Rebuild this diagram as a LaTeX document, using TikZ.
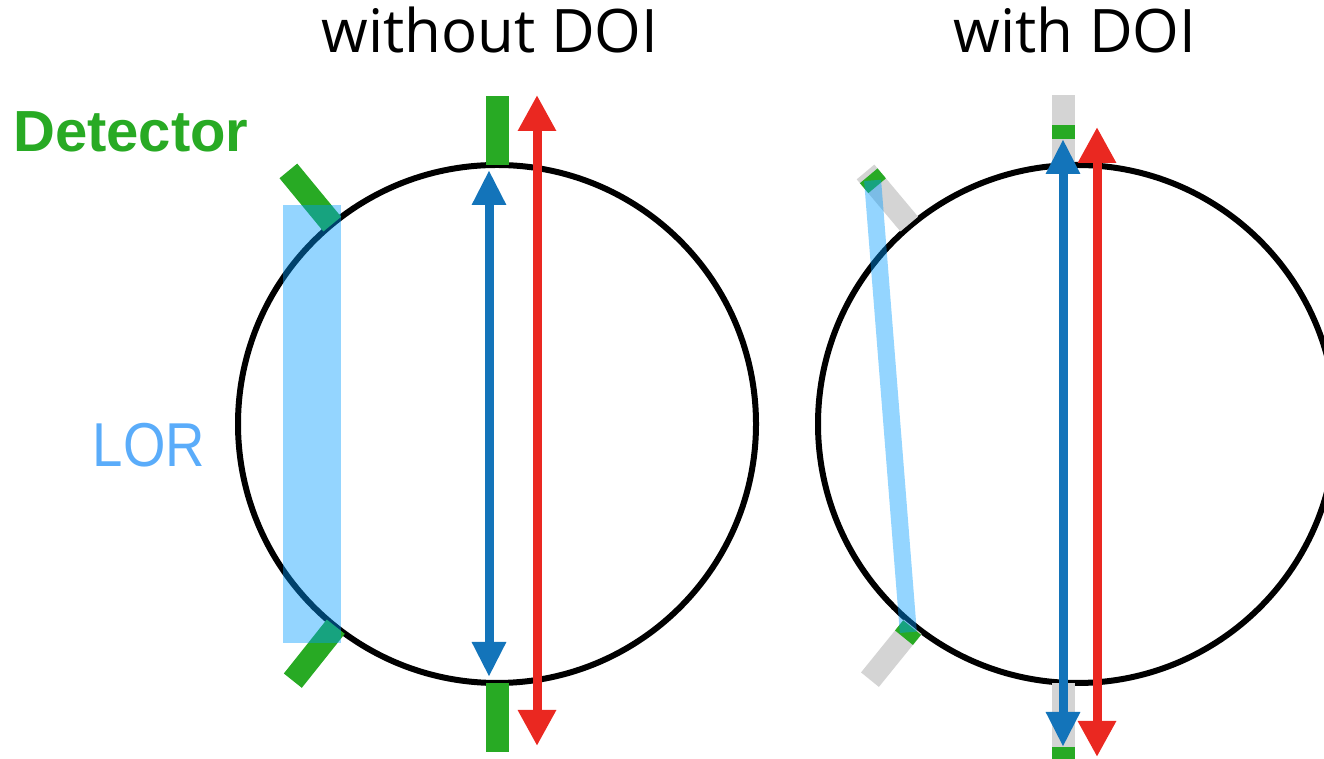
\documentclass[tikz,border=0pt]{standalone}
\usepackage{fontspec}
\setmainfont{Open Sans}
\newfontfamily\labelfont{Liberation Sans}
\usetikzlibrary{arrows.meta,calc}
\definecolor{detgreen}{RGB}{40,170,36}
\definecolor{arrblue}{RGB}{19,116,186}
\definecolor{arrred}{RGB}{234,40,33}
\definecolor{detgray}{RGB}{212,212,212}
\definecolor{lorfill}{RGB}{0,155,255}
\definecolor{lortext}{RGB}{90,172,250}
\tikzset{
  ring/.style={draw=black, line width=6pt},
  detector/.style={draw=detgreen, line width=23pt},
  graydet/.style={draw=detgray, line width=23pt},
  greenmark/.style={draw=detgreen, line width=23pt},
  lorband/.style={fill=lorfill, fill opacity=0.42, draw=none},
  lorline/.style={draw=lorfill, draw opacity=0.42, line width=17pt},
  bluearrow/.style={draw=arrblue, line width=9pt, {Triangle[width=32pt,length=35pt]}-{Triangle[width=32pt,length=35pt]}},
  redarrow/.style={draw=arrred, line width=9pt, {Triangle[width=36pt,length=36pt]}-{Triangle[width=36pt,length=36pt]}},
  title/.style={font=\fontsize{60}{64}\selectfont, anchor=base, inner sep=0pt},
}
\begin{document}
\begin{tikzpicture}[x=1pt,y=1pt]
\useasboundingbox (0,0) rectangle (1324,759);
% titles
\node[title] (t1) at (490,706) {without DOI};
\node[title] (t2) at (1075,706) {with DOI};
\node[anchor=base west, inner sep=0pt, text=detgreen, font=\labelfont\bfseries\fontsize{58}{60}\selectfont] (det) at (13,607) {Detector};
\node[anchor=base, inner sep=0pt, text=lortext, font=\labelfont\fontsize{62}{64}\selectfont] (lor) at (149,292) {\scalebox{0.88}[1]{LOR}};

% ---------- left: without DOI ----------
\coordinate (L) at (497,335);
\draw[ring] (L) circle[radius=259];
\foreach \a in {90,270,129.5,231.5}
  \draw[detector] ($(L)+(\a:259)$) -- ($(L)+(\a:328)$);
\fill[lorband] (283,116) rectangle (341,554);
\coordinate (lbt) at (489,589);
\coordinate (lbb) at (489,82);
\coordinate (lrt) at (537,664);
\coordinate (lrb) at (537,13);
\draw[bluearrow] (lbb) -- (lbt);
\draw[redarrow] (lrb) -- (lrt);

% ---------- right: with DOI ----------
\coordinate (R) at (1077,335);
\draw[ring] (R) circle[radius=259];
\draw[graydet] (1063,597) -- (1063,664);
\draw[graydet] (1063,8) -- (1063,76);
\foreach \a in {130,231}
  \draw[graydet] ($(R)+(\a:261)$) -- ($(R)+(\a:329)$);
\draw[greenmark] (1063,620) -- (1063,634);
\draw[greenmark] (1063,-2) -- (1063,12);
\draw[greenmark] ($(R)+(130:311)$) -- ($(R)+(130:324)$);
\draw[greenmark] ($(R)+(231:262)$) -- ($(R)+(231:275)$);
\coordinate (lorA) at ($(R)+(130:318)$);
\coordinate (lorB) at ($(R)+(231:268)$);
\draw[lorline] (lorA) -- (lorB);
\coordinate (rbt) at (1063,620);
\coordinate (rbb) at (1063,12);
\coordinate (rrt) at (1097,632);
\coordinate (rrb) at (1097,2);
\draw[bluearrow] (rbb) -- (rbt);
\draw[redarrow] (rrb) -- (rrt);
\end{tikzpicture}
\end{document}
